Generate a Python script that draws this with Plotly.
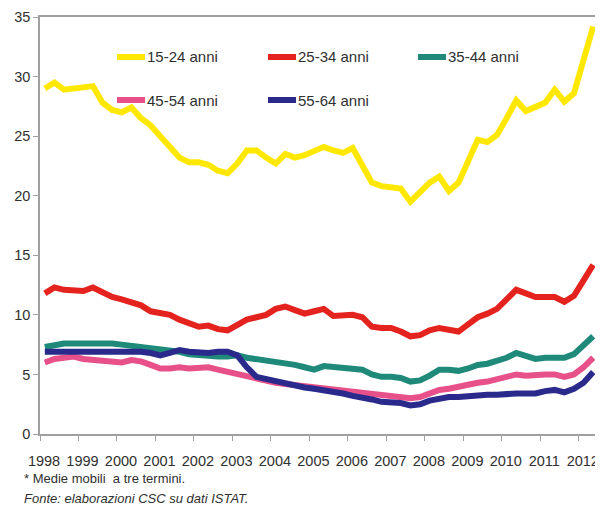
import plotly.graph_objects as go

years = list(range(1998, 2013))
# quarterly points, mid-quarter positions
t = [1998.125 + 0.25 * k for k in range(58)]

y15_24 = [29.0, 29.5, 28.9, 29.0, 29.1, 29.2, 27.8, 27.2, 27.0, 27.4,
          26.5, 25.9, 25.0, 24.1, 23.2, 22.8, 22.8, 22.6, 22.1, 21.9,
          22.7, 23.8, 23.8, 23.2, 22.7, 23.5, 23.2, 23.4, 23.7, 24.1,
          23.8, 23.6, 24.0, 22.5, 21.1, 20.8, 20.7, 20.6, 19.5, 20.3,
          21.1, 21.6, 20.4, 21.1, 23.0, 24.7, 24.5, 25.1, 26.5, 28.0,
          27.1, 27.4, 27.8, 28.9, 27.9, 28.6, 31.5, 34.2]
y25_34 = [11.8, 12.3, 12.1, 12.0, 12.0, 12.3, 11.9, 11.5, 11.3, 11.1,
          10.8, 10.3, 10.1, 10.0, 9.6, 9.3, 9.0, 9.1, 8.8, 8.7,
          9.2, 9.6, 9.8, 10.0, 10.5, 10.7, 10.4, 10.1, 10.3, 10.5,
          9.9, 10.0, 10.0, 9.8, 9.0, 8.9, 8.9, 8.6, 8.2, 8.3,
          8.7, 8.9, 8.7, 8.6, 9.2, 9.8, 10.1, 10.5, 11.3, 12.1,
          11.8, 11.5, 11.5, 11.5, 11.1, 11.6, 12.9, 14.2]
y35_44 = [7.3, 7.5, 7.6, 7.6, 7.6, 7.7, 7.7, 7.6, 7.5, 7.4,
          7.3, 7.2, 7.1, 7.1, 6.9, 6.7, 6.6, 6.6, 6.5, 6.5,
          6.6, 6.4, 6.3, 6.1, 6.0, 6.0, 5.8, 5.6, 5.4, 5.7,
          5.6, 5.5, 5.5, 5.4, 5.0, 4.8, 4.8, 4.7, 4.4, 4.5,
          4.9, 5.4, 5.4, 5.3, 5.5, 5.8, 5.9, 6.1, 6.4, 6.8,
          6.6, 6.3, 6.4, 6.4, 6.4, 6.7, 7.4, 8.2]
y45_54 = [6.0, 6.3, 6.4, 6.5, 6.3, 6.2, 6.1, 6.0, 6.0, 6.2,
          6.1, 5.8, 5.5, 5.5, 5.6, 5.5, 5.5, 5.6, 5.4, 5.2,
          5.1, 4.9, 4.7, 4.5, 4.3, 4.2, 4.1, 4.1, 4.0, 3.9,
          3.8, 3.7, 3.6, 3.5, 3.4, 3.3, 3.2, 3.1, 3.0, 3.1,
          3.4, 3.7, 3.8, 4.0, 4.2, 4.3, 4.4, 4.6, 4.8, 5.0,
          4.9, 5.0, 5.0, 5.0, 4.8, 5.0, 5.6, 6.4]
y55_64 = [6.9, 6.9, 6.9, 7.0, 7.0, 7.0, 7.0, 7.0, 7.0, 7.0,
          6.9, 6.8, 6.6, 6.8, 7.05, 6.9, 6.8, 6.8, 6.9, 6.9,
          6.6, 5.6, 4.8, 4.6, 4.4, 4.3, 4.1, 3.9, 3.8, 3.7,
          3.5, 3.4, 3.2, 3.1, 2.9, 2.7, 2.7, 2.6, 2.4, 2.5,
          2.8, 3.0, 3.1, 3.1, 3.2, 3.3, 3.3, 3.3, 3.4, 3.4,
          3.4, 3.4, 3.6, 3.7, 3.5, 3.8, 4.3, 5.2]

labels = ["15-24 anni", "25-34 anni", "35-44 anni", "45-54 anni", "55-64 anni"]
series = [y15_24, y25_34, y35_44, y45_54, y55_64]
colors = ["#FFE800", "#E4231E", "#1F8A7A", "#E8508A", "#2A2A8C"]

OFF = 8  # page body margin
W, H = 603 - OFF, 515 - OFF
# plot area in screen pixels: x 40..598, y 17..434
L, T = 40 - OFF, 17 - OFF
R = W - (598 - OFF)
B = H - (434 - OFF)
pw, ph = W - L - R, H - T - B


def px(x):
    return (x - 40) / pw


def py(y):
    return (434 - y) / ph


fig = go.Figure()
for i in range(5):
    fig.add_trace(go.Scatter(x=t, y=series[i], mode="lines", name=labels[i],
                             line=dict(color=colors[i], width=6),
                             showlegend=False))

font = "Liberation Sans, Arial, sans-serif"
tc = "#303030"

# manual legend (positions in screen pixels)
leg_pos = [(117, 57), (268, 57), (418, 57), (117, 100), (268, 100)]
shapes = []
annots = []
for (lx, ly), lab, col in zip(leg_pos, labels, colors):
    shapes.append(dict(type="line", xref="paper", yref="paper", x0=px(lx), x1=px(lx + 28),
                       y0=py(ly), y1=py(ly), line=dict(color=col, width=6)))
    annots.append(dict(xref="paper", yref="paper", x=px(lx + 28), y=py(ly), text=lab,
                       showarrow=False, xanchor="left", yanchor="middle",
                       font=dict(family=font, size=15, color=tc)))

annots.append(dict(xref="paper", yref="paper", x=px(22), y=py(478),
                   text="* Medie mobili  a tre termini.", showarrow=False,
                   xanchor="left", yanchor="middle",
                   font=dict(family=font, size=13, color=tc)))
annots.append(dict(xref="paper", yref="paper", x=px(22), y=py(499),
                   text="<i>Fonte: elaborazioni CSC su dati ISTAT.</i>", showarrow=False,
                   xanchor="left", yanchor="middle",
                   font=dict(family=font, size=13, color=tc)))

fig.update_layout(
    width=W, height=H,
    margin=dict(l=L, r=R, t=T, b=B, autoexpand=False),
    paper_bgcolor="white", plot_bgcolor="white",
    shapes=shapes, annotations=annots,
    font=dict(family=font, size=14.5, color=tc),
)
fig.update_xaxes(range=[1998, 2012.5], tickvals=years, ticktext=[str(y) for y in years],
                 ticks="outside", ticklen=5, tickcolor="#A0A0A0", automargin=False,
                 showline=True, linecolor="#A0A0A0", linewidth=1.5, mirror=True,
                 showgrid=False, zeroline=False, ticklabelshift=4, ticklabelstandoff=8,
                 tickfont=dict(family=font, size=14.5, color=tc))
fig.update_yaxes(range=[0, 35], tickvals=[0, 5, 10, 15, 20, 25, 30, 35],
                 ticks="outside", ticklen=5, tickcolor="#A0A0A0", automargin=False,
                 showline=True, linecolor="#A0A0A0", linewidth=1.5, mirror=True,
                 showgrid=False, zeroline=False,
                 tickfont=dict(family=font, size=14.5, color=tc))

fig.write_html("out.html")
